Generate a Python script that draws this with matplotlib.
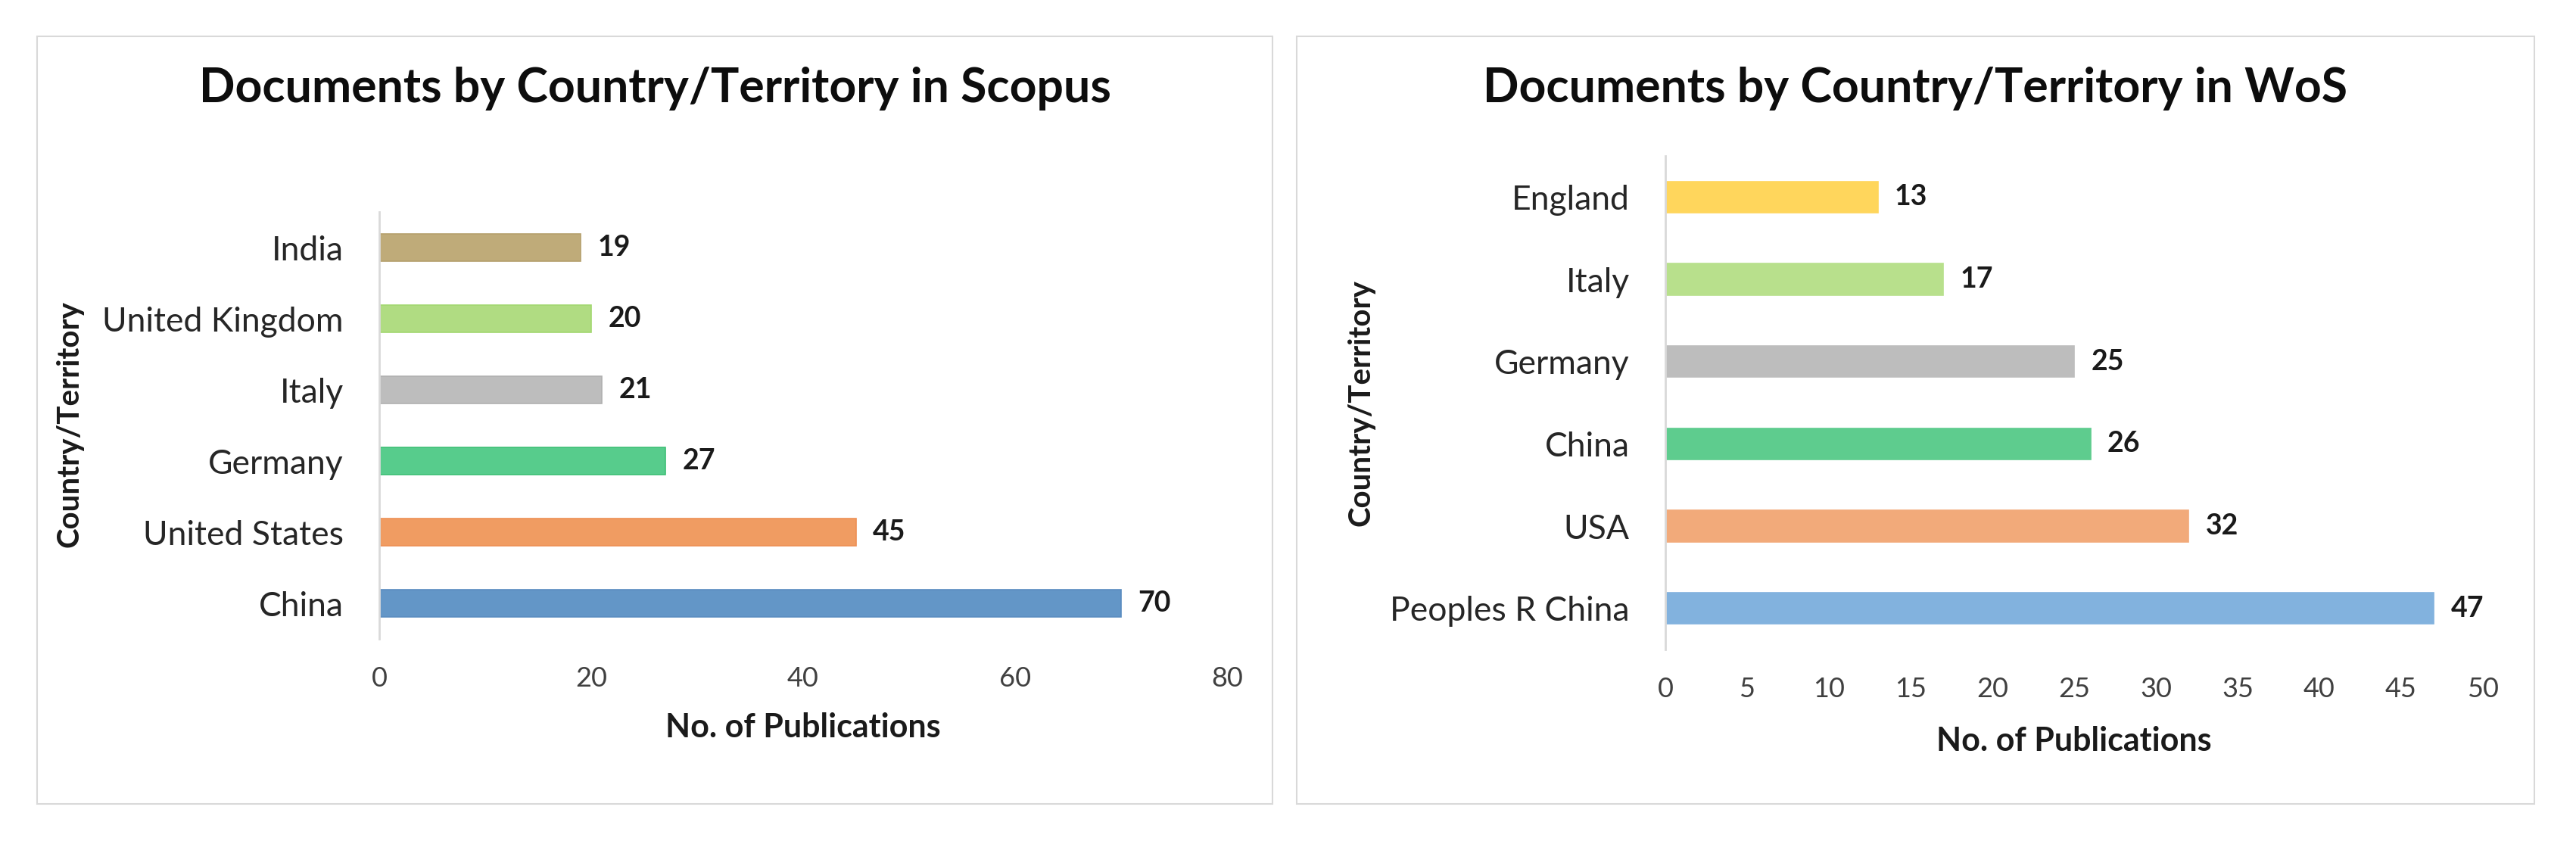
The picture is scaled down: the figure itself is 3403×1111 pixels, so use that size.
import matplotlib
matplotlib.use("Agg")
import matplotlib.pyplot as plt
from matplotlib.patches import Rectangle

plt.rcParams['font.family'] = ['Lato', 'DejaVu Sans']

# ---- data ----
scopus_countries = ["China", "United States", "Germany", "Italy", "United Kingdom", "India"]
scopus_values = [70, 45, 27, 21, 20, 19]
scopus_colors = ["#6396C7", "#F09C62", "#57CC8C", "#BDBDBD", "#B0DC82", "#BFAB79"]
scopus_edges = ["#5A8CC0", "#EE9055", "#3DBF76", "#B0B0B0", "#A2D870", "#B5A06C"]
scopus_xticks = [0, 20, 40, 60, 80]

wos_countries = ["Peoples R China", "USA", "China", "Germany", "Italy", "England"]
wos_values = [47, 32, 26, 25, 17, 13]
wos_colors = ["#82B2DE", "#F2AA7A", "#5ECC8E", "#BDBDBD", "#B8E08C", "#FFD65C"]
wos_xticks = [0, 5, 10, 15, 20, 25, 30, 35, 40, 45, 50]

titles = ["Documents by Country/Territory in Scopus", "Documents by Country/Territory in WoS"]
xlabel = "No. of Publications"
ylabel = "Country/Territory"

W, H = 3403, 1111
fig = plt.figure(figsize=(W / 100, H / 100), dpi=100)
fig.patch.set_facecolor("white")

# panel frames
for (x0, x1) in [(49, 1681), (1713, 3348)]:
    fig.add_artist(Rectangle((x0 / W, 1 - 1062 / H), (x1 - x0) / W, (1062 - 48) / H,
                             transform=fig.transFigure, fill=False,
                             edgecolor="#D9D9D9", linewidth=1.5))

def make(ax, cats, vals, cols, edges, xticks, title, title_xc, ylab_xy, xlab_y, tickpad):
    y = list(range(len(cats)))
    ax.barh(y, vals, height=0.38, color=cols, edgecolor=edges, linewidth=1.2)
    ax.set_yticks(y)
    ax.set_yticklabels(cats, fontsize=32, color="#262626")
    ax.set_ylim(-0.5, len(cats) - 0.5)
    ax.set_xlim(xticks[0], xticks[-1])
    ax.set_xticks(xticks)
    ax.set_xticklabels([str(t) for t in xticks], fontsize=26, color="#404040")
    ax.tick_params(axis="both", length=0)
    ax.tick_params(axis="y", pad=34)
    ax.tick_params(axis="x", pad=tickpad)
    for s in ["top", "right", "bottom"]:
        ax.spines[s].set_visible(False)
    ax.spines["left"].set_color("#D9D9D9")
    ax.spines["left"].set_linewidth(2)
    for yi, v in zip(y, vals):
        ax.annotate(str(v), (v, yi), xytext=(16, 0), textcoords="offset points",
                    va="center", ha="left", fontsize=27, fontweight="bold", color="#1a1a1a")
    ax.set_xlabel(xlabel, fontsize=31, fontweight="bold", color="#1a1a1a", va="center")
    ax.xaxis.set_label_coords(0.5, xlab_y)
    ax.set_ylabel(ylabel, fontsize=29, fontweight="bold", color="#1a1a1a", va="center")
    ax.yaxis.set_label_coords(*ylab_xy)
    fig.text(title_xc / W, 1 - 117 / H, title, fontsize=45, fontweight="bold",
             ha="center", va="center", color="#0d0d0d")

ax1 = fig.add_axes([501 / W, 1 - 844 / H, 1120 / W, 564 / H])
make(ax1, scopus_countries, scopus_values, scopus_colors, scopus_edges, scopus_xticks,
     titles[0], 865, (-0.365, 0.504), (844 - 961) / 564, 26)

ax2 = fig.add_axes([2200 / W, 1 - 858 / H, 1080 / W, 652 / H])
make(ax2, wos_countries, wos_values, wos_colors, wos_colors, wos_xticks,
     titles[1], 2530, (-0.372, 0.5), (858 - 979) / 652, 26)

fig.savefig("out.png", dpi=100, facecolor="white")
